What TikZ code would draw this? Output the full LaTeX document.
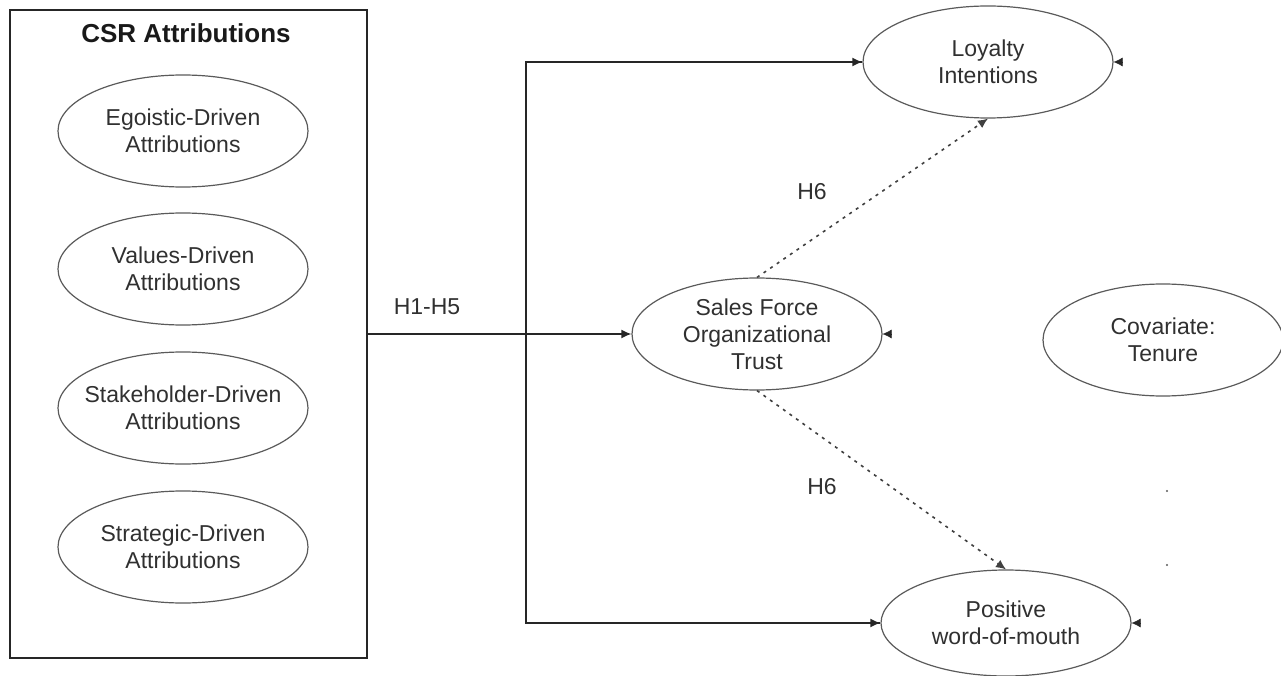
\documentclass[tikz,border=0pt]{standalone}
\usepackage{fontspec}
\setmainfont{Liberation Sans}
\usetikzlibrary{arrows.meta}
\usetikzlibrary{shapes.geometric}
\definecolor{inkgray}{HTML}{5A5A5A}
\definecolor{textgray}{HTML}{303030}
\tikzset{
construct/.style={ellipse, draw=inkgray, line width=1.2pt, minimum width=250pt, minimum height=112pt, inner sep=0pt, align=center, text=textgray, font=\fontsize{23}{27}\selectfont},
hyp/.style={text=textgray, font=\fontsize{23}{27}\selectfont},
link/.style={draw=black!85, line width=1.6pt, -{Latex[length=10pt,width=9pt]}},
weak/.style={draw=black!75, line width=1.6pt, dash pattern=on 3pt off 5pt, -{Latex[length=10pt,width=9pt]}},
covtip/.style={draw=black!85, line width=0.4pt, -{Latex[length=9pt,width=9pt]}}
}

\begin{document}
\begin{tikzpicture}[x=1pt,y=-1pt]
\useasboundingbox (0,0) rectangle (1281,676);
\node [rectangle, draw=black!85, line width=1.6pt, minimum width=357pt, minimum height=648pt] (CSR) at (188.5,334) {};
\node [text=black!90, font=\bfseries\fontsize{26}{30}\selectfont] (title) at (186,33) {CSR Attributions};

\node [construct] (EGO) at (183,131) {Egoistic-Driven\\Attributions};
\node [construct] (VAL) at (183,269) {Values-Driven\\Attributions};
\node [construct, inner xsep=-22pt] (STK) at (183,408) {Stakeholder-Driven\\Attributions};
\node [construct] (STR) at (183,547) {Strategic-Driven\\Attributions};

\node [construct] (SFT) at (757,334) {Sales Force\\Organizational\\Trust};
\node [construct] (LOY) at (988,62) {Loyalty\\Intentions};
\node [construct, minimum height=106pt] (PWM) at (1006,623) {Positive\\word-of-mouth};
\node [construct, minimum width=240pt] (COV) at (1163,340) {Covariate:\\Tenure};

\coordinate (split) at (526,334);
\coordinate (dotA) at (1167,491);
\coordinate (dotB) at (1167,565);

\node [hyp] (h15) at (427,307) {H1-H5};
\node [hyp] (h6a) at (812,192) {H6};
\node [hyp] (h6b) at (822,487) {H6};

\draw [link] (CSR.east) -- (SFT.west);
\draw [link, -] (split) |- (LOY.west);
\draw [link] (LOY.west -| split) -- (LOY.west);
\draw [link, -] (split) |- (PWM.west);
\draw [link] (PWM.west -| split) -- (PWM.west);

\draw [weak] (SFT.north) -- (LOY.south);
\draw [weak] (SFT.south) -- (PWM.north);

\draw [covtip] ([xshift=9pt]LOY.east) -- (LOY.east);
\draw [covtip] ([xshift=9pt]SFT.east) -- (SFT.east);
\draw [covtip] ([xshift=9pt]PWM.east) -- (PWM.east);

\fill [inkgray] (dotA) circle (1.2pt);
\fill [inkgray] (dotB) circle (1.2pt);
\end{tikzpicture}
\end{document}
